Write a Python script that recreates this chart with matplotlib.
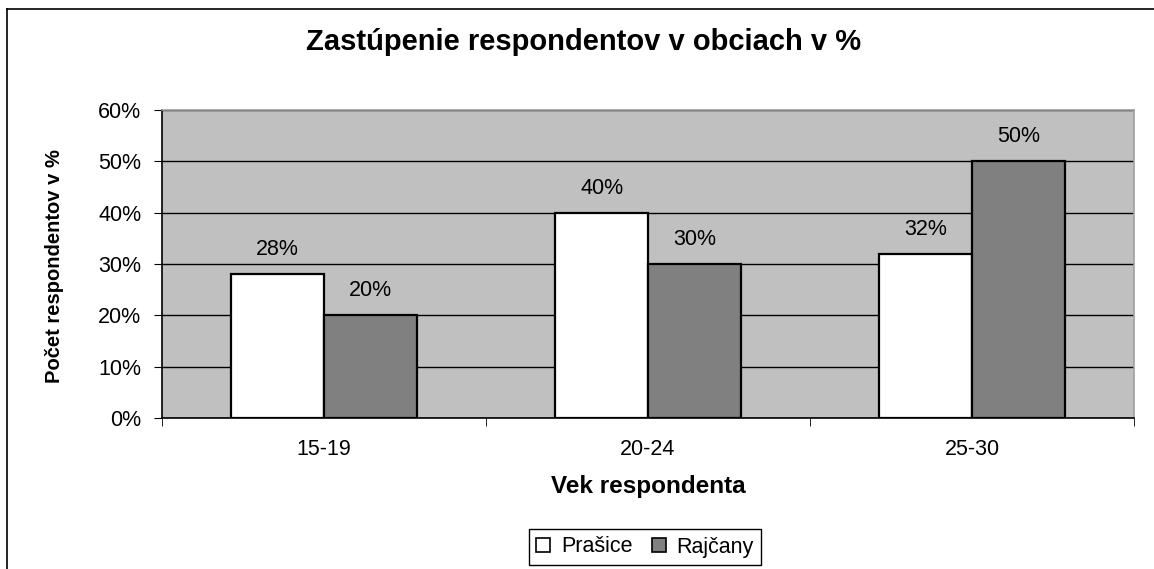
import matplotlib
matplotlib.use("Agg")
import matplotlib.pyplot as plt
from matplotlib.lines import Line2D
from matplotlib.patches import Patch
import numpy as np

categories = ["15-19", "20-24", "25-30"]
series_names = ["Prašice", "Rajčany"]
prasice = [28, 40, 32]
rajcany = [20, 30, 50]
yticks = [0, 10, 20, 30, 40, 50, 60]
colors = ["#FFFFFF", "#808080"]

plt.rcParams['font.family'] = ['Liberation Sans', 'DejaVu Sans']

W, H = 1154, 569
fig = plt.figure(figsize=(W / 100, H / 100), dpi=100)
fig.patch.set_facecolor("white")

# outer chart frame (top and left edges visible)
fig.add_artist(Line2D([7 / W, 1.0], [1 - 9 / H, 1 - 9 / H], transform=fig.transFigure, color="black", lw=1.2))
fig.add_artist(Line2D([7 / W, 7 / W], [0, 1 - 9 / H], transform=fig.transFigure, color="black", lw=1.2))

ax = fig.add_axes([162 / W, 1 - 418 / H, (1134 - 162) / W, (418 - 110) / H])
ax.set_facecolor("#C0C0C0")

x = np.arange(len(categories))
bw = 1 / 3.5
series = [prasice, rajcany]
for i, (vals, c, name) in enumerate(zip(series, colors, series_names)):
    pos = x + (i - 0.5) * bw
    bars = ax.bar(pos, vals, width=bw, color=c, edgecolor="black", linewidth=1.6, label=name, zorder=3)
    for b, v in zip(bars, vals):
        ax.annotate(f"{v}%", (b.get_x() + b.get_width() / 2, v), xytext=(0, 10), textcoords="offset points",
                    ha="center", va="bottom", fontsize=15.5)

ax.set_xlim(-0.5, len(categories) - 0.5)
ax.set_ylim(0, 60)
ax.set_yticks(yticks)
ax.set_yticklabels([f"{t}%" for t in yticks], fontsize=15.5)
ax.yaxis.grid(True, color="black", lw=1.0, zorder=1)
ax.set_axisbelow(True)

ax.set_xticks(x)
ax.set_xticklabels(categories, fontsize=15.5)
ax.set_xticks(np.arange(-0.5, len(categories)), minor=True)
ax.tick_params(axis="x", which="major", length=0, pad=15)
ax.tick_params(axis="x", which="minor", length=6, direction="out", color="black")
ax.tick_params(axis="y", length=6, direction="out", pad=9)

for s in ["left", "bottom"]:
    ax.spines[s].set_color("black")
    ax.spines[s].set_linewidth(1.2)
for s in ["right", "top"]:
    ax.spines[s].set_color("#A0A0A0")
    ax.spines[s].set_linewidth(1.2)

fig.text(584 / W, 1 - 42 / H, "Zastúpenie respondentov v obciach v %", ha="center", va="center",
         fontsize=21, fontweight="bold")
fig.text(648 / W, 1 - 487 / H, "Vek respondenta", ha="center", va="center", fontsize=17.5, fontweight="bold")
fig.text(55 / W, 1 - 266 / H, "Počet respondentov v %", ha="center", va="center", rotation=90,
         fontsize=14.5, fontweight="bold")

handles = [Patch(facecolor=c, edgecolor="black", lw=1.2) for c in colors]
leg = fig.legend(handles, series_names, loc="center", bbox_to_anchor=(645 / W, 1 - 547 / H), ncol=2,
                 fontsize=15.5, frameon=True, fancybox=False, framealpha=1, edgecolor="black",
                 handlelength=0.65, handleheight=0.65, handletextpad=0.5, columnspacing=0.9,
                 borderpad=0.35)
leg.get_frame().set_linewidth(1.0)

fig.savefig("out.png", dpi=100)
